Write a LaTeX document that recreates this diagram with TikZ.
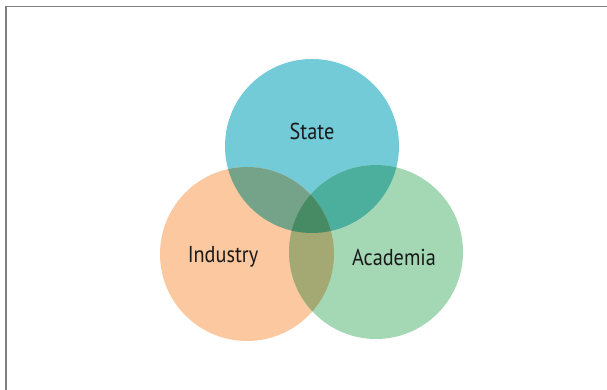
\documentclass[tikz,border=0pt]{standalone}
\usepackage{fontspec}
\setmainfont{PT Sans}[FakeStretch=0.88]
\usepackage{tikz}
\usetikzlibrary{positioning, calc}
\definecolor{statecol}{HTML}{73CBD8}
\definecolor{industrycol}{HTML}{FBC8A0}
\definecolor{academiacol}{HTML}{A4D8B5}
\definecolor{iscol}{HTML}{74A38A}
\definecolor{sacol}{HTML}{4CAE9C}
\definecolor{iacol}{HTML}{A4A872}
\definecolor{allcol}{HTML}{468B63}
\definecolor{framecol}{HTML}{808080}
\tikzset{
    venn/.style={
        circle,
        inner sep=0pt,
        minimum size=174pt,
    },
    label/.style={
        font=\fontsize{23}{25}\selectfont,
        text=black!90,
    },
}
\begin{document}
\begin{tikzpicture}[x=1pt, y=-1pt]
      \useasboundingbox (0,0) rectangle (607,390);

      \node[venn, fill=statecol] (state) at (312,146) {};
      \node[venn, fill=industrycol] (industry) at (247,254) {};
      \node[venn, fill=academiacol] (academia) at (376,252) {};

      % overlaps
      \begin{scope}
        \clip (state.center) circle[radius=87pt];
        \fill[iscol] (industry.center) circle[radius=87pt];
        \fill[sacol] (academia.center) circle[radius=87pt];
      \end{scope}
      \begin{scope}
        \clip (industry.center) circle[radius=87pt];
        \fill[iacol] (academia.center) circle[radius=87pt];
        \clip (academia.center) circle[radius=87pt];
        \fill[allcol] (state.center) circle[radius=87pt];
      \end{scope}

      \node[label] (statetext) at (312,131) {State};
      \node[label] (industrytext) at (223,257) {Industry};
      \node[label] (academiatext) at (394,257) {Academia};

      % frame
      \coordinate (topleft) at (6,6.5);
      \coordinate (topright) at (607,6.5);
      \coordinate (bottomleft) at (6,390);
      \draw[framecol, line width=1.8pt] (bottomleft) -- (topleft) -- (topright);
    \end{tikzpicture}
\end{document}
